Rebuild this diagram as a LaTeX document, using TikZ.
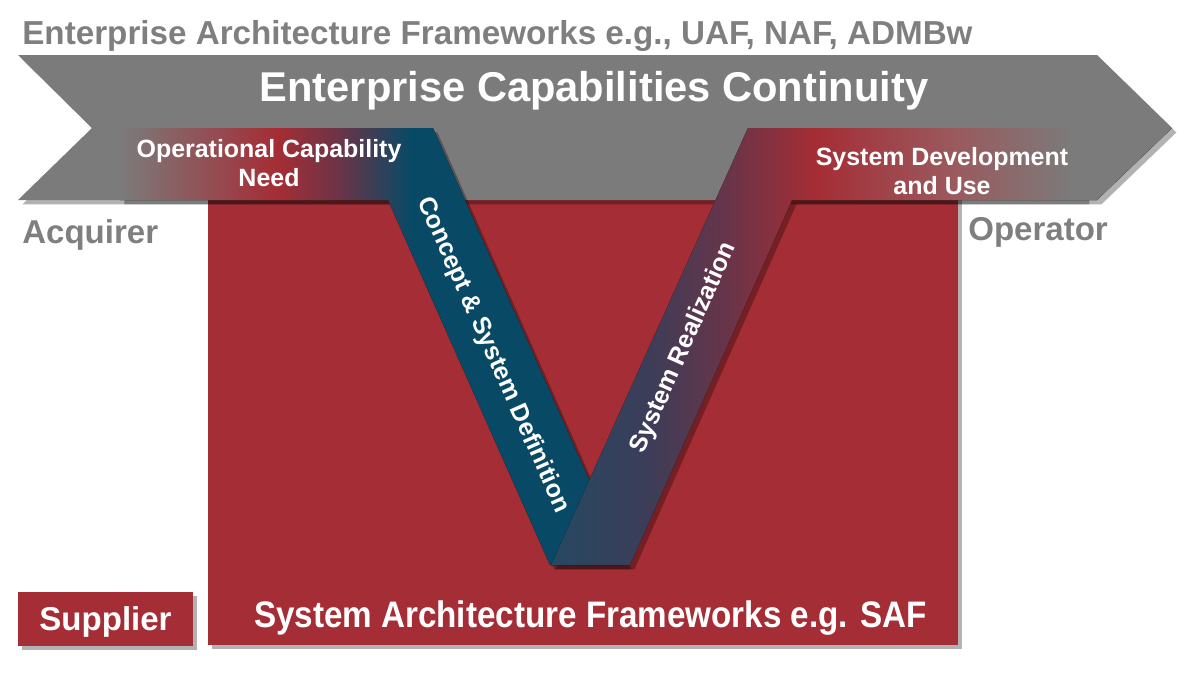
\documentclass[tikz,border=0pt]{standalone}
\usepackage{fontspec}
\setmainfont{Liberation Sans}
\usepackage{xcolor}
\usepackage{tikz}
\usepackage{graphicx}
\usetikzlibrary{calc,shadows}
\definecolor{frameGray}{RGB}{123,123,123}
\definecolor{textGray}{RGB}{127,127,127}
\definecolor{deepRed}{RGB}{165,45,53}
\definecolor{deepBlue}{RGB}{8,74,102}
\definecolor{slateBlue}{RGB}{38,72,98}
\definecolor{plumBlue}{RGB}{61,61,88}
\definecolor{darkPlum}{RGB}{106,52,72}
\definecolor{dustRed}{RGB}{154,90,94}
\pgfdeclarehorizontalshading{needShade}{100bp}{color(0bp)=(frameGray); color(25bp)=(frameGray); color(40.5bp)=(deepRed); color(46.7bp)=(darkPlum); color(53.6bp)=(deepBlue); color(100bp)=(deepBlue)}
\pgfdeclarehorizontalshading{useShade}{100bp}{color(0bp)=(slateBlue); color(25bp)=(slateBlue); color(33bp)=(plumBlue); color(39.4bp)=(darkPlum); color(46.3bp)=(deepRed); color(57.5bp)=(dustRed); color(67bp)=(frameGray); color(100bp)=(frameGray)}
\tikzset{
  softShadow/.style={drop shadow={shadow xshift=2.5pt, shadow yshift=-2.5pt, opacity=0.3, fill=black}},
  bandLabel/.style={text=white, font=\fontsize{14.2}{16.5}\selectfont\bfseries, align=center, inner sep=0pt},
  grayLabel/.style={text=textGray, font=\fontsize{18.8}{22}\selectfont\bfseries, inner sep=0pt, anchor=base west},
}

\begin{document}
\begin{tikzpicture}[x=0.02cm, y=-0.02cm]
    \useasboundingbox (0,0) rectangle (1184,673);
    \fill[deepRed, softShadow] (208,190) rectangle (958,645);
    \fill[frameGray, softShadow] (18,55) -- (1097,55) -- (1172,128) -- (1097,200) -- (18,200) -- (92,128) -- cycle;
    \fill[shading=needShade, softShadow] (120,128) -- (433,128) -- (627,565) -- (550,565) -- (388,200) -- (120,200) -- cycle;
    \fill[black, opacity=0.3, xshift=2.5pt, yshift=-2.5pt] (551,565) -- (630,565) -- (792,200) -- (1085,200) -- (1085,190) -- (760,190) -- cycle;
    \fill[shading=useShade] (748,128) -- (1172,128) -- (1097,200) -- (792,200) -- (630,565) -- (551,565) -- cycle;
    \node[grayLabel, font=\fontsize{18.9}{22}\selectfont\bfseries] (eaf) at (22,44) {Enterprise Architecture Frameworks e.g., UAF, NAF, ADMBw};
    \node[text=white, font=\fontsize{23.7}{28}\selectfont\bfseries, anchor=base, inner sep=0pt] (ecc) at (594,101) {Enterprise Capabilities Continuity};
    \node[bandLabel] (ocn) at (269,163.5) {Operational Capability\\Need};
    \node[bandLabel] (sdu) at (942,171) {System Development\\and Use};
    \node[bandLabel, rotate=-66] (csd) at (493,355) {Concept \& System Definition};
    \node[bandLabel, rotate=66] (sr) at (684,348) {System Realization};
    \node[grayLabel] (acq) at (22,243) {Acquirer};
    \node[grayLabel] (opr) at (968,240) {Operator};
    \node[fill=deepRed, softShadow, text=white, font=\fontsize{18.8}{22}\selectfont\bfseries, minimum width=3.5cm, minimum height=1.08cm, inner sep=0pt, text depth=0pt] (sup) at (105.5,619) {Supplier};
    \node[text=white, font=\fontsize{21}{24}\selectfont\bfseries, anchor=base, inner sep=0pt] (saf) at (590.5,627) {\scalebox{0.9}[1]{System Architecture Frameworks e.g. SAF}};
\end{tikzpicture}
\end{document}
